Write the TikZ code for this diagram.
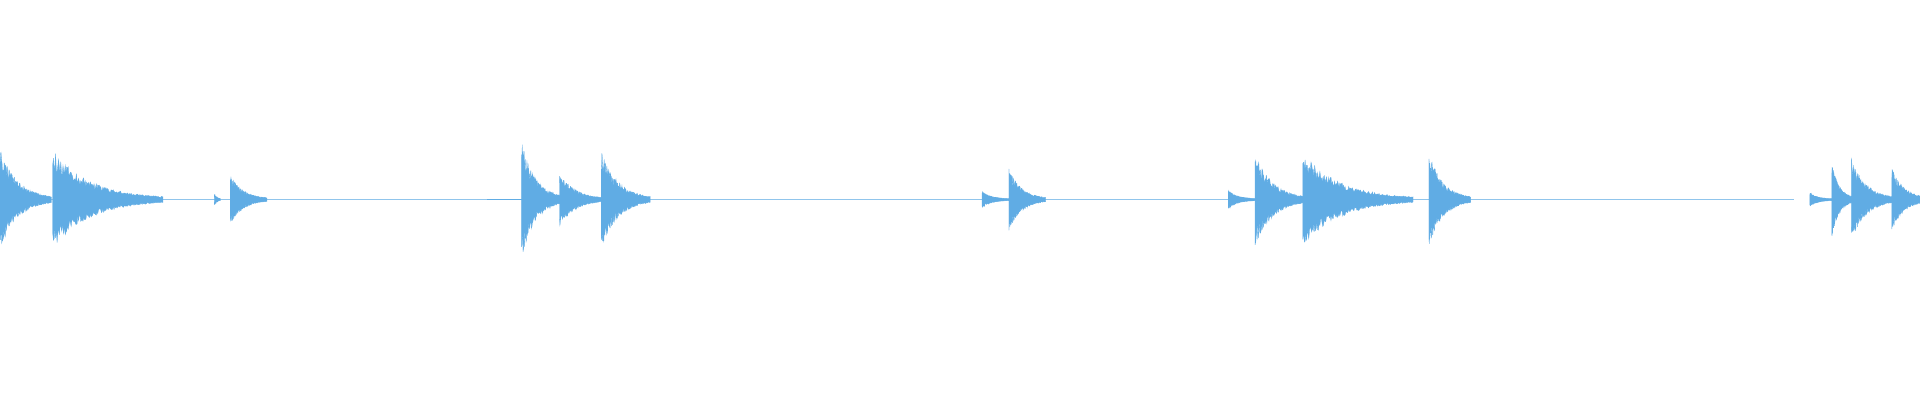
\documentclass[tikz,border=0pt]{standalone}
\definecolor{wave}{RGB}{96,172,228}
\tikzset{burst/.style={fill=wave,draw=wave,line width=0.2pt}}
\begin{document}
\begin{tikzpicture}[x=0.03cm,y=0.03cm]
  \useasboundingbox (0,-163) rectangle (1568,163);
  \pgfmathsetseed{7}
  % silent line
  \draw[wave!70,line width=0.3pt] (0,0) -- (1465,0);
  \draw[wave,line width=0.8pt] (398,0) -- (426,0);
  \draw[wave,line width=0.8pt] (1478,0) -- (1496,0);
  % bursts: start / peak height / decay length
  \foreach \s/\h/\l in {0/41/42, 43/40/90, 175/4/5, 188/20/30,
      426/47/34, 457/22/36, 491/40/40, 802/6/22, 824/25/30,
      1003/7/22, 1025/38/42, 1064/38/90, 1167/38/34,
      1478/5/18, 1496/30/18, 1512/33/36, 1545/25/30}{
    \fill[burst] plot[domain=0:\l,samples=150]
        ({\s+\x},{\h*exp(-3*\x/\l)*(0.6+0.4*rnd)+0.6})
      -- plot[domain=\l:0,samples=150]
        ({\s+\x},{-\h*exp(-3*\x/\l)*(0.6+0.4*rnd)-0.6}) -- cycle;
  }
\end{tikzpicture}
\end{document}
